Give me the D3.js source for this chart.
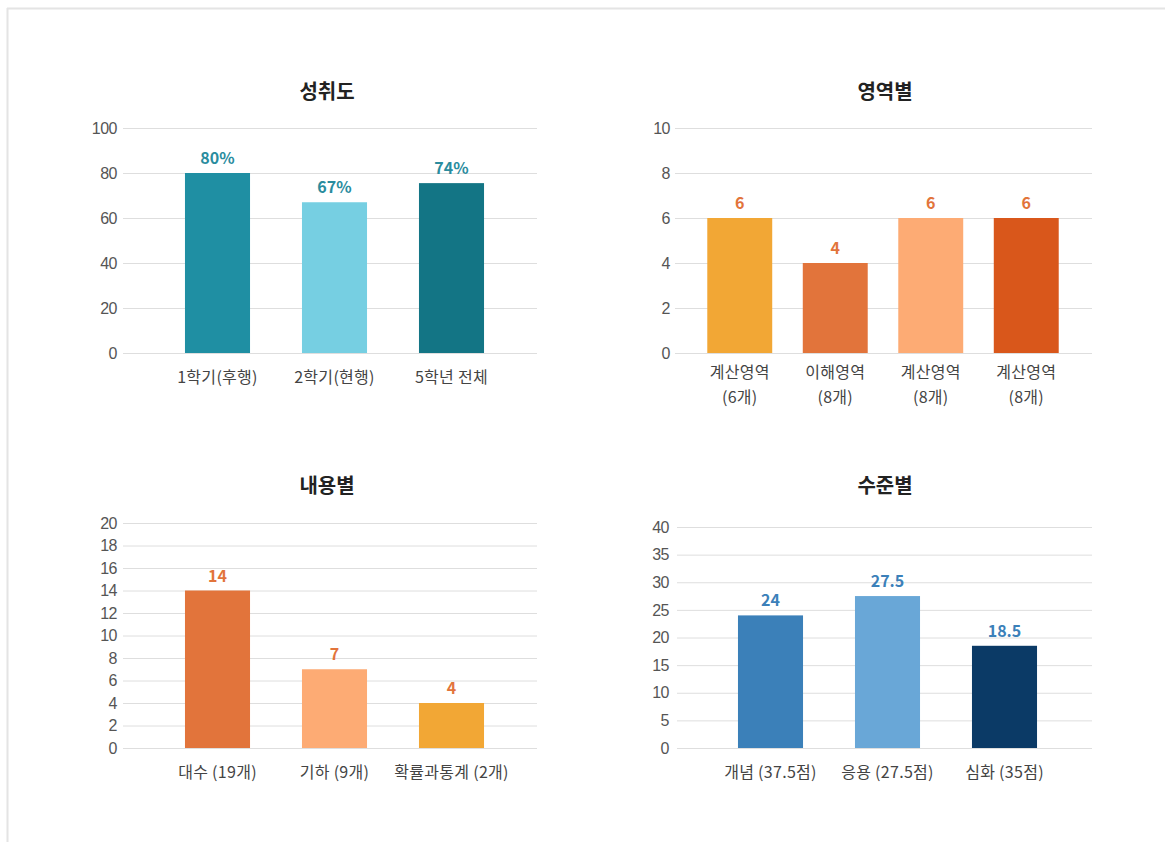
<!DOCTYPE html>
<html>
<head>
<meta charset="utf-8">
<script src="https://cdn.jsdelivr.net/npm/d3@7.9.0/dist/d3.min.js"></script>
<style>
  body { margin: 0; background: #fff; }
  svg { display: block; font-family: "Noto Sans CJK KR", "Noto Sans", sans-serif; }
  .grid line { stroke: #dedede; }
  .grid text { fill: #555; font-size: 16px; letter-spacing: -0.5px; }
  .cat { fill: #444; font-size: 16px; letter-spacing: 0.3px; }
  .title { fill: #222; font-size: 20px; font-weight: 700; }
  .val { font-size: 16px; font-weight: 700; }
</style>
</head>
<body>
<svg id="chart" width="1165" height="842"></svg>
<script>
// 성취도
const achieveCats = [['1학기(후행)'], ['2학기(현행)'], ['5학년 전체']];
const achieveVals = [80, 67, 75.5];
const achieveLabels = ['80%', '67%', '74%'];
const achieveTicks = [0, 20, 40, 60, 80, 100];

// 영역별
const areaCats = [['계산영역', '(6개)'], ['이해영역', '(8개)'], ['계산영역', '(8개)'], ['계산영역', '(8개)']];
const areaVals = [6, 4, 6, 6];
const areaLabels = ['6', '4', '6', '6'];
const areaTicks = [0, 2, 4, 6, 8, 10];

// 내용별
const contentCats = [['대수 (19개)'], ['기하 (9개)'], ['확률과통계 (2개)']];
const contentVals = [14, 7, 4];
const contentLabels = ['14', '7', '4'];
const contentTicks = [0, 2, 4, 6, 8, 10, 12, 14, 16, 18, 20];

// 수준별
const levelCats = [['개념 (37.5점)'], ['응용 (27.5점)'], ['심화 (35점)']];
const levelVals = [24, 27.5, 18.5];
const levelLabels = ['24', '27.5', '18.5'];
const levelTicks = [0, 5, 10, 15, 20, 25, 30, 35, 40];

const svg = d3.select('#chart');

// outer frame (top and left edges only are visible)
svg.append('line').attr('x1', 7).attr('x2', 1165).attr('y1', 8.5).attr('y2', 8.5)
  .attr('stroke', '#e4e4e4').attr('stroke-width', 2);
svg.append('line').attr('x1', 7.5).attr('x2', 7.5).attr('y1', 8).attr('y2', 842)
  .attr('stroke', '#e4e4e4').attr('stroke-width', 2);

function drawBars(opt) {
  const g = svg.append('g');
  const keys = opt.cats.map((c, i) => i);

  const y = d3.scaleLinear()
    .domain([0, d3.max(opt.ticks)])
    .range([opt.bottom, opt.top]);

  const x = d3.scaleBand()
    .domain(keys)
    .range(opt.band)
    .paddingInner(opt.pad)
    .paddingOuter(opt.pad / 2);

  // gridlines with tick labels
  const axis = g.append('g')
    .attr('class', 'grid')
    .attr('transform', `translate(${opt.grid[0]},0)`)
    .call(d3.axisLeft(y)
      .tickValues(opt.ticks)
      .tickSize(-(opt.grid[1] - opt.grid[0]))
      .tickPadding(opt.tickPad));
  axis.select('.domain').remove();
  axis.selectAll('text').attr('font-family', null).attr('font-size', null);
  axis.selectAll('line').attr('stroke', null);

  g.selectAll('rect.bar')
    .data(opt.vals)
    .join('rect')
    .attr('class', 'bar')
    .attr('x', (d, i) => x(i))
    .attr('width', x.bandwidth())
    .attr('y', (d) => y(d))
    .attr('height', (d) => y(0) - y(d))
    .attr('fill', (d, i) => opt.colors[i]);

  g.selectAll('text.val')
    .data(opt.vals)
    .join('text')
    .attr('class', 'val')
    .attr('x', (d, i) => x(i) + x.bandwidth() / 2)
    .attr('y', (d) => y(d) - 9)
    .attr('text-anchor', 'middle')
    .attr('fill', opt.labelColor)
    .text((d, i) => opt.labels[i]);

  const cat = g.selectAll('text.cat')
    .data(opt.cats)
    .join('text')
    .attr('class', 'cat')
    .attr('text-anchor', 'middle')
    .attr('transform', (d, i) =>
      `translate(${x(i) + x.bandwidth() / 2},${opt.bottom + 30 - (d.length - 1) * 5})`);
  cat.selectAll('tspan')
    .data((d) => d)
    .join('tspan')
    .attr('x', 0)
    .attr('y', (d, j) => j * 25)
    .text((d) => d);

  g.append('text')
    .attr('class', 'title')
    .attr('x', opt.titleX)
    .attr('y', opt.titleY)
    .attr('text-anchor', 'middle')
    .text(opt.title);
}

drawBars({
  title: '성취도', titleX: 327, titleY: 99,
  cats: achieveCats, vals: achieveVals, labels: achieveLabels, ticks: achieveTicks,
  colors: ['#1f8fa3', '#76cfe2', '#137585'], labelColor: '#2a8c9e',
  top: 128, bottom: 353, grid: [123, 537], band: [159, 510], pad: 0.444, tickPad: 6
});

drawBars({
  title: '영역별', titleX: 885, titleY: 99,
  cats: areaCats, vals: areaVals, labels: areaLabels, ticks: areaTicks,
  colors: ['#f2a735', '#e2743b', '#fdab74', '#d9571b'], labelColor: '#e2743b',
  top: 128, bottom: 353, grid: [675, 1092], band: [692, 1074], pad: 0.32, tickPad: 5
});

drawBars({
  title: '내용별', titleX: 327, titleY: 493,
  cats: contentCats, vals: contentVals, labels: contentLabels, ticks: contentTicks,
  colors: ['#e2743b', '#fdab74', '#f2a735'], labelColor: '#e2743b',
  top: 523, bottom: 748, grid: [123, 537], band: [159, 510], pad: 0.444, tickPad: 6
});

drawBars({
  title: '수준별', titleX: 885, titleY: 493,
  cats: levelCats, vals: levelVals, labels: levelLabels, ticks: levelTicks,
  colors: ['#3b80b9', '#69a7d7', '#0b3a66'], labelColor: '#3b80b9',
  top: 527, bottom: 748, grid: [677, 1092], band: [712, 1063], pad: 0.444, tickPad: 8
});
</script>
</body>
</html>
